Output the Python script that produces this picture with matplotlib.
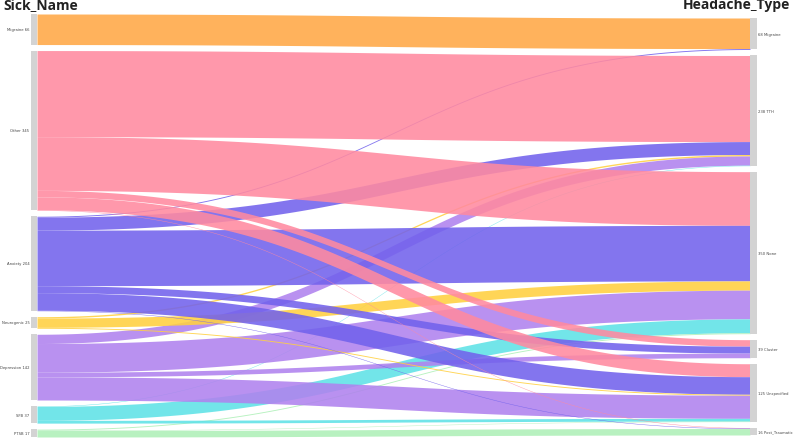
import numpy as np
import matplotlib.pyplot as plt

# -----------------------------
# Data
# -----------------------------
sources = ["Migraine", "Other", "Anxiety", "Neurogenic", "Depression", "SFB", "PTSB"]
targets = ["Migraine", "TTH", "None", "Cluster", "Unspecified", "Post_Traumatic"]

# rows = sources, cols = targets
flows = np.array([
    [66,   0,   0,  0,   0,  0],   # Migraine
    [ 0, 186, 116, 14,  28,  1],   # Other
    [ 2,  28, 120, 15,  38,  1],   # Anxiety
    [ 0,   3,  20,  0,   2,  0],   # Neurogenic
    [ 0,  20,  62, 10,  50,  0],   # Depression
    [ 0,   1,  30,  0,   6,  0],   # SFB
    [ 0,   0,   2,  0,   1, 14],   # PTSB
])

colors = ["#ffa845", "#ff8aa0", "#7262ec", "#ffd040", "#b082ee", "#5fe2e6", "#aef0b8"]

# -----------------------------
# Layout (pixel space)
# -----------------------------
W, H = 794, 439
pad = 6
x_left0, x_left1 = 31, 37
x_right0, x_right1 = 750, 757
top_left, bot_left = 15, 438

src_tot = flows.sum(axis=1)
tgt_tot = flows.sum(axis=0)
total = src_tot.sum()
scale = (bot_left - top_left - pad * (len(sources) - 1)) / total

def node_positions(tots, top):
    ys = []
    y = top
    for t in tots:
        ys.append(y)
        y += t * scale + pad
    return np.array(ys)

right_h = total * scale + pad * (len(targets) - 1)
top_right = (top_left + bot_left) / 2 - right_h / 2 + 1
src_y = node_positions(src_tot, top_left)
tgt_y = node_positions(tgt_tot, top_right)

fig = plt.figure(figsize=(W / 100, H / 100), dpi=100)
ax = fig.add_axes([0, 0, 1, 1])
ax.set_xlim(0, W)
ax.set_ylim(H, 0)
ax.axis("off")

# -----------------------------
# Links
# -----------------------------
t = np.linspace(0, 1, 150)
def bez(a, b):
    return (1 - t) ** 3 * a + 3 * (1 - t) ** 2 * t * a + 3 * (1 - t) * t ** 2 * b + t ** 3 * b

xm = (x_left1 + x_right0) / 2
xs = (1 - t) ** 3 * x_left1 + 3 * (1 - t) ** 2 * t * xm \
    + 3 * (1 - t) * t ** 2 * xm + t ** 3 * x_right0

# source side: ordered by target index
src_off = src_y.copy()
links = []
for i in range(len(sources)):
    for j in range(len(targets)):
        v = flows[i, j]
        if v <= 0:
            continue
        h = v * scale
        links.append((i, j, src_off[i], h))
        src_off[i] += h

# target side: ordered by source index
tgt_off = tgt_y.copy()
final = []
for j in range(len(targets)):
    for (i, jj, ys, h) in links:
        if jj == j:
            final.append((i, j, ys, tgt_off[j], h))
            tgt_off[j] += h

for (i, j, ys, yt, h) in final:
    top = bez(ys, yt)
    bot = bez(ys + h, yt + h)
    ax.fill_between(xs, top, bot, color=colors[i], alpha=0.88, lw=0)

# -----------------------------
# Nodes
# -----------------------------
for i, name in enumerate(sources):
    h = src_tot[i] * scale
    ax.add_patch(plt.Rectangle((x_left0, src_y[i]), x_left1 - x_left0, h,
                               color="#d3d3d3", lw=0))
    ax.text(x_left0 - 1.5, src_y[i] + h / 2, f"{name} {src_tot[i]}",
            ha="right", va="center", fontsize=2.7, color="#444444")

for j, name in enumerate(targets):
    h = tgt_tot[j] * scale
    ax.add_patch(plt.Rectangle((x_right0, tgt_y[j]), x_right1 - x_right0, h,
                               color="#d3d3d3", lw=0))
    ax.text(x_right1 + 1.5, tgt_y[j] + h / 2, f"{tgt_tot[j]} {name}",
            ha="left", va="center", fontsize=2.7, color="#444444")

ax.text(3, 5.5, "Sick_Name", ha="left", va="center", fontsize=10,
        fontweight="bold", family="Open Sans", color="#222222")
ax.text(W - 4, 5.5, "Headache_Type", ha="right", va="center", fontsize=10,
        fontweight="bold", family="Open Sans", color="#222222")

fig.savefig("out.png", dpi=100)
